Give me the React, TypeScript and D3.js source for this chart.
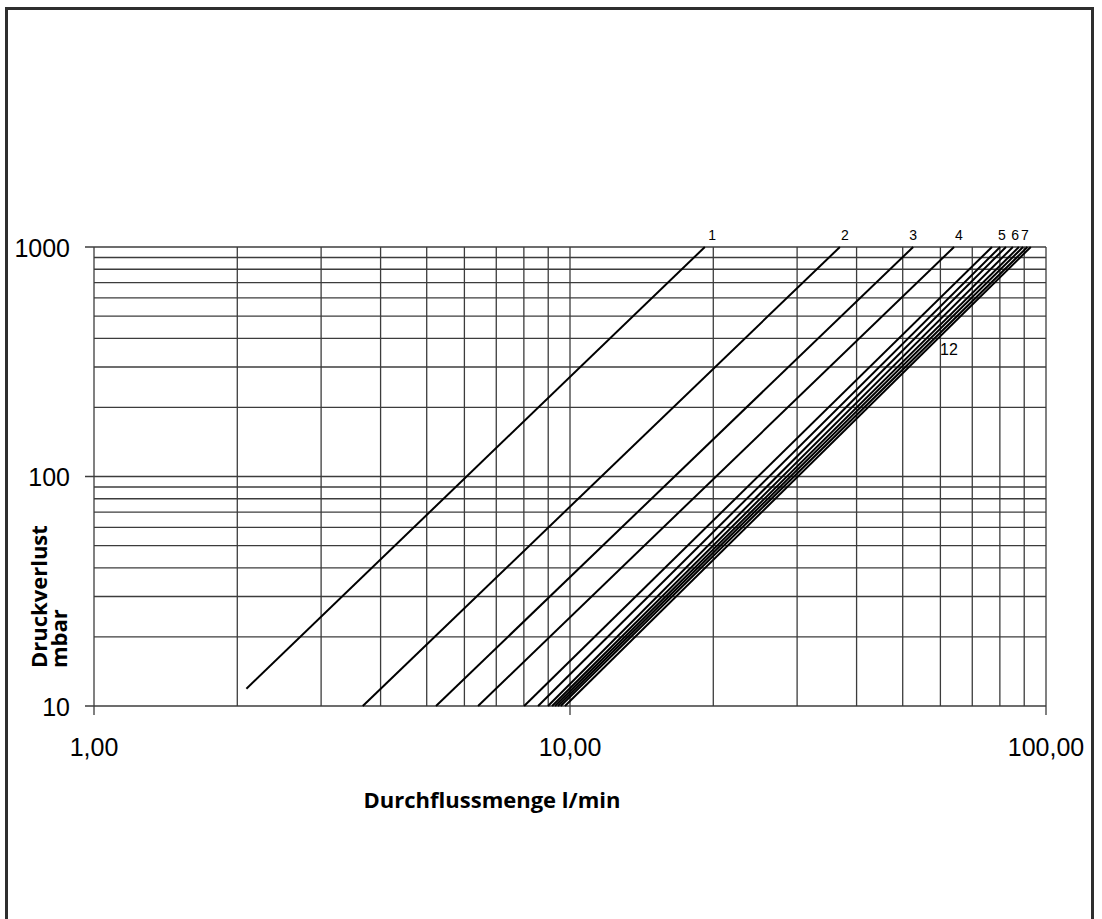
import React from "react";
import * as d3 from "d3";

// ---- data ----
const curveLabels = ["1", "2", "3", "4", "5", "6", "7", "8", "9", "10", "11", "12"];
const startFlow = [2.09, 3.67, 5.23, 6.41, 8.01, 8.57, 8.99, 9.17, 9.3, 9.43, 9.56, 9.76];
const startLoss = [11.9, 10, 10, 10, 10, 10, 10, 10, 10, 10, 10, 10];
const endFlow = [19.2, 36.9, 52.6, 64.1, 77.0, 80.1, 82.4, 85.2, 87.7, 89.5, 91.4, 92.9];
const endLoss = [1000, 1000, 1000, 1000, 1000, 1000, 1000, 1000, 1000, 1000, 1000, 1000];

const topLabelText = ["1", "2", "3", "4", "5", "6", "7"];
const topLabelFlow = [19.9, 37.8, 52.6, 65.6, 80.8, 86.1, 90.3];
const sideLabelText = "12";
const sideLabelFlow = 59.9;
const sideLabelLoss = 359;

const xTickValues = [1, 10, 100];
const xTickLabels = ["1,00", "10,00", "100,00"];
const yTickValues = [10, 100, 1000];
const yTickLabels = ["10", "100", "1000"];
const xGridValues = [1, 2, 3, 4, 5, 6, 7, 8, 9, 10, 20, 30, 40, 50, 60, 70, 80, 90, 100];
const yGridValues = [10, 20, 30, 40, 50, 60, 70, 80, 90, 100, 200, 300, 400, 500, 600, 700, 800, 900, 1000];

const xTitle = "Durchflussmenge l/min";
const yTitle1 = "Druckverlust";
const yTitle2 = "mbar";

const W = 1102;
const H = 919;

export default function App() {
  const x = d3.scaleLog().domain([1, 100]).range([94, 1046]);
  const y = d3.scaleLog().domain([10, 1000]).range([706, 247]);
  const line = d3
    .line<[number, number]>()
    .x((d) => x(d[0]))
    .y((d) => y(d[1]));

  const tickFont = "'Liberation Sans', Arial, sans-serif";
  const titleFont = "'Open Sans', 'Noto Sans', sans-serif";
  const gridColor = "#3c3c3c";

  return (
    <div style={{ position: "absolute", left: 0, top: 0 }}>
      <svg width={W} height={H} style={{ display: "block", background: "#fff" }}>
        <rect x={0} y={0} width={W} height={H} fill="#fff" />
        {/* outer frame */}
        <rect x={6.5} y={8.5} width={1086} height={H + 20} fill="none" stroke="#2e2e2e" strokeWidth={3} />

        {/* grid */}
        {yGridValues.map((v) => (
          <line
            key={"hy" + v}
            x1={yTickValues.includes(v) ? x(1) - 9 : x(1)}
            x2={x(100)}
            y1={y(v)}
            y2={y(v)}
            stroke={gridColor}
            strokeWidth={1.3}
          />
        ))}
        {xGridValues.map((v) => (
          <line
            key={"vx" + v}
            x1={x(v)}
            x2={x(v)}
            y1={y(1000)}
            y2={xTickValues.includes(v) ? y(10) + 9 : y(10)}
            stroke={gridColor}
            strokeWidth={1.3}
          />
        ))}

        {/* curves */}
        {curveLabels.map((c, i) => (
          <path
            key={"c" + c}
            d={line([
              [startFlow[i], startLoss[i]],
              [endFlow[i], endLoss[i]],
            ]) || ""}
            fill="none"
            stroke="#000"
            strokeWidth={2}
          />
        ))}

        {/* curve labels */}
        {topLabelText.map((t, i) => (
          <text
            key={"tl" + t}
            x={x(topLabelFlow[i])}
            y={y(1000) - 7}
            textAnchor="middle"
            fontFamily={tickFont}
            fontSize={14}
            fill="#000"
          >
            {t}
          </text>
        ))}
        <text
          x={x(sideLabelFlow)}
          y={y(sideLabelLoss) + 6}
          fontFamily={tickFont}
          fontSize={16}
          fill="#000"
        >
          {sideLabelText}
        </text>

        {/* tick labels */}
        {yTickValues.map((v, i) => (
          <text
            key={"yt" + v}
            x={70}
            y={y(v) + 9.5}
            textAnchor="end"
            fontFamily={tickFont}
            fontSize={25}
            fill="#000"
          >
            {yTickLabels[i]}
          </text>
        ))}
        {xTickValues.map((v, i) => (
          <text
            key={"xt" + v}
            x={x(v)}
            y={756}
            textAnchor="middle"
            fontFamily={tickFont}
            fontSize={25}
            fill="#000"
          >
            {xTickLabels[i]}
          </text>
        ))}

        {/* titles */}
        <text
          x={492}
          y={808}
          textAnchor="middle"
          fontFamily={titleFont}
          fontWeight="bold"
          fontSize={22}
          fill="#000"
        >
          {xTitle}
        </text>
        <text
          transform="translate(47,668) rotate(-90)"
          fontFamily={titleFont}
          fontWeight="bold"
          fontSize={22}
          fill="#000"
        >
          {yTitle1}
        </text>
        <text
          transform="translate(67,668) rotate(-90)"
          fontFamily={titleFont}
          fontWeight="bold"
          fontSize={22}
          fill="#000"
        >
          {yTitle2}
        </text>
      </svg>
    </div>
  );
}
